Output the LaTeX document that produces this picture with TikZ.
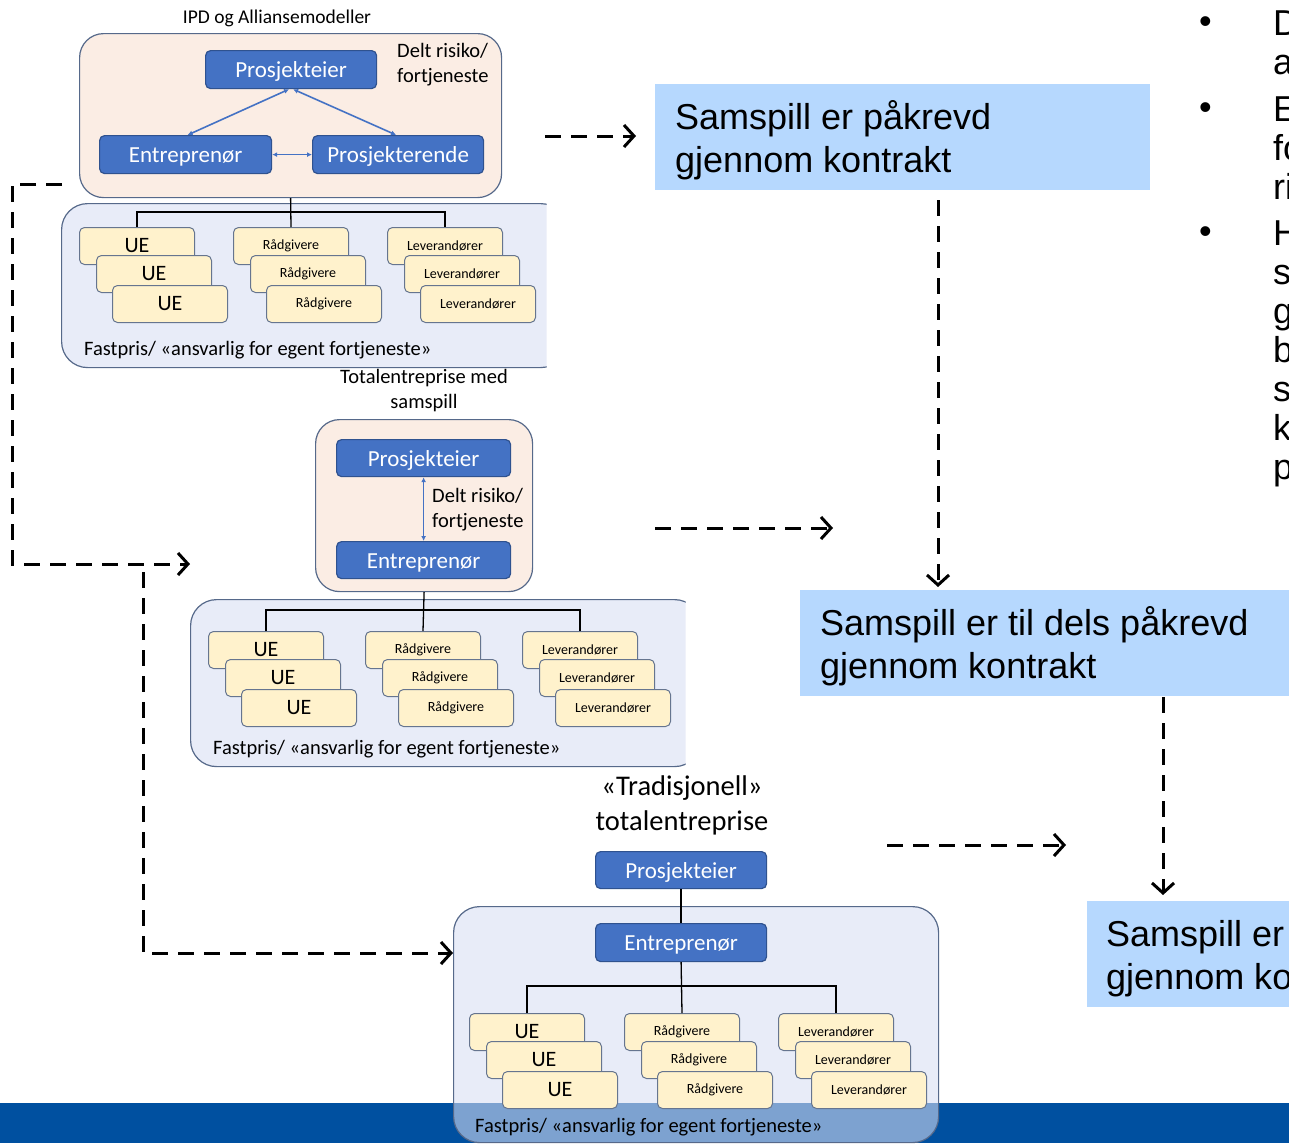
\documentclass[tikz,border=0pt]{standalone}
\usepackage{fontspec}
\setmainfont{Carlito}
\newfontfamily\arialf{Liberation Sans}
\usetikzlibrary{arrows.meta}
\definecolor{bluebox}{HTML}{4472C4}
\definecolor{blueedge}{HTML}{2F528F}
\definecolor{peach}{HTML}{FBEDE4}
\definecolor{contfill}{RGB}{216,223,243}
\definecolor{contedge}{HTML}{56698A}
\definecolor{yell}{HTML}{FFF2CC}
\definecolor{yedge}{HTML}{66758F}
\definecolor{txtbox}{HTML}{B6D8FE}
\definecolor{barblue}{RGB}{0,80,160}
\newcommand\fsz[2]{\fontsize{#1}{#2}\selectfont}
\newcommand\ystack[5]{%
  \node[ybox,font=#5] (#1a) at (#2,#3) {#4};
  \node[ybox,font=#5] (#1b) at ({#2+17},{#3+28}) {#4};
  \node[ybox,font=#5] (#1c) at ({#2+33},{#3+58}) {#4};}
\tikzset{
  role/.style={draw=blueedge, line width=1.2pt, fill=bluebox, rounded corners=5pt, text=white,
    inner sep=0pt, anchor=north west, font=\fsz{23}{27}, text height=18pt, text depth=1.5pt},
  ybox/.style={draw=yedge, line width=1pt, fill=yell, rounded corners=5pt, inner sep=0pt,
    anchor=north west, minimum width=115pt, minimum height=37pt},
  peachbox/.style={draw=contedge, line width=1.2pt, fill=peach, rounded corners=24pt,
    anchor=north west, inner sep=0pt},
  contbox/.style={draw=contedge, line width=1.2pt, fill=contfill, fill opacity=0.58,
    rounded corners=26pt, anchor=north west, inner sep=0pt},
  tbox/.style={fill=txtbox, anchor=north west, inner sep=0pt},
  stxt/.style={anchor=base west, font=\arialf\fsz{36}{43}, inner sep=0pt},
  tree/.style={line width=1.3pt, black},
  bluearr/.style={draw=bluebox, line width=1.6pt, {Latex[length=5pt,width=5pt]}-{Latex[length=5pt,width=5pt]}},
  dasharrow/.style={line width=3pt, dash pattern=on 16pt off 10pt,
    -{Straight Barb[length=10pt,width=22pt,line width=3pt]}},
  lbl/.style={inner sep=0pt, font=\fsz{20.5}{25}},
}
\begin{document}
\begin{tikzpicture}[x=1pt,y=-1pt]
\useasboundingbox (0,0) rectangle (1289,1143);
\fill[white] (0,0) rectangle (1289,1143);
% bottom bar
\fill[barblue] (0,1103) rectangle (1289,1143);

% ================= top block =================
\node[font=\fsz{19.5}{23}, inner sep=0pt] (t1) at (277,18.5) {IPD og Alliansemodeller};
\node[peachbox, minimum width=422pt, minimum height=164pt] (p1) at (79,33) {};
\node[role, minimum width=171pt, minimum height=38pt] (pe1) at (205,50) {Prosjekteier};
\node[role, minimum width=172pt, minimum height=38pt] (en1) at (99,135) {Entreprenør};
\node[role, minimum width=171pt, minimum height=38pt] (pr1) at (312,135) {Prosjekterende};
\node[lbl, font=\fsz{20.5}{25}, align=left, anchor=north west] (d1) at (397,43) {Delt risiko/\\fortjeneste};
\draw[bluearr] ([xshift=-2pt]pe1.south) -- ([xshift=2pt]en1.north);
\draw[bluearr] ([xshift=2pt]pe1.south) -- ([xshift=-2pt]pr1.north);
\draw[bluearr] (en1) -- (pr1);
\begin{scope}
\clip (0,0) rectangle (546.5,1143);
\node[contbox, minimum width=505pt, minimum height=164pt] (c1) at (61,203) {};
\end{scope}
\ystack{ue1}{79}{227}{UE}{\fsz{22}{26}}
\ystack{ra1}{233}{227}{Rådgivere}{\fsz{14}{17}}
\ystack{le1}{387}{227}{Leverandører}{\fsz{14}{17}}
\coordinate (j1) at (291,212);
\draw[tree] (p1.south) -- (ra1a.north);
\draw[tree] (ue1a.north) |- (le1a.north |- j1) -- (le1a.north);
\node[lbl, anchor=west] (f1) at (84,350.5) {Fastpris/ «ansvarlig for egent fortjeneste»};

% ================= middle block =================
\node[lbl, align=center] (t2) at (424,391) {Totalentreprise med\\samspill};
\node[peachbox, minimum width=217pt, minimum height=172pt] (p2) at (315,419) {};
\node[role, minimum width=174pt, minimum height=37pt] (pe2) at (336,439) {Prosjekteier};
\node[role, minimum width=174pt, minimum height=37pt] (en2) at (336,541) {Entreprenør};
\draw[bluearr] (pe2) -- (en2);
\node[lbl, align=left, anchor=north west] (d2) at (432,488.5) {Delt risiko/\\fortjeneste};
\begin{scope}
\clip (0,0) rectangle (685.5,1143);
\node[contbox, minimum width=510pt, minimum height=167pt] (c2) at (190,599) {};
\end{scope}
\ystack{ue2}{208}{631}{UE}{\fsz{22}{26}}
\ystack{ra2}{365}{631}{Rådgivere}{\fsz{14}{17}}
\ystack{le2}{522}{631}{Leverandører}{\fsz{14}{17}}
\coordinate (j2) at (424,610);
\draw[tree] (p2.south) -- (ra2a.north);
\draw[tree] (ue2a.north) |- (le2a.north |- j2) -- (le2a.north);
\node[lbl, anchor=west] (f2) at (213,749.5) {Fastpris/ «ansvarlig for egent fortjeneste»};

% ================= bottom block =================
\node[inner sep=0pt, font=\fsz{28.5}{35}, align=center] (t3) at (682,805) {«Tradisjonell»\\totalentreprise};
\node[contbox, minimum width=485pt, minimum height=236pt] (c3) at (453,906) {};
\node[role, minimum width=171pt, minimum height=37pt] (pe3) at (595,851) {Prosjekteier};
\node[role, minimum width=171pt, minimum height=38pt] (en3) at (595,923) {Entreprenør};
\draw[tree] (pe3) -- (en3);
\ystack{ue3}{469}{1013}{UE}{\fsz{22}{26}}
\ystack{ra3}{624}{1013}{Rådgivere}{\fsz{14}{17}}
\ystack{le3}{778}{1013}{Leverandører}{\fsz{14}{17}}
\coordinate (j3) at (681,986);
\draw[tree] (en3.south) -- (ra3a.north);
\draw[tree] (ue3a.north) |- (le3a.north |- j3) -- (le3a.north);
\node[lbl, anchor=west] (f3) at (475,1127.5) {Fastpris/ «ansvarlig for egent fortjeneste»};

% ================= right side =================
\node[tbox, minimum width=495pt, minimum height=106pt] (s1) at (655,84) {};
\node[stxt] (s1a) at (675,129) {Samspill er påkrevd};
\node[stxt] (s1b) at (675,172) {gjennom kontrakt};
\node[tbox, minimum width=500pt, minimum height=106pt] (s2) at (800,590) {};
\node[stxt] (s2a) at (820,635) {Samspill er til dels påkrevd};
\node[stxt] (s2b) at (820,678) {gjennom kontrakt};
\node[tbox, minimum width=220pt, minimum height=106pt] (s3) at (1087,901) {};
\node[stxt] (s3a) at (1106,946) {Samspill er};
\node[stxt] (s3b) at (1106,989) {gjennom ko};

% bullets
\begin{scope}[every node/.style={anchor=base west, font=\arialf\fsz{36}{40}, inner sep=0pt}]
\node (b1) at (1199,33) {•};
\node (b1l1) at (1273,35) {D};
\node (b1l2) at (1273,74) {a};
\node (b2) at (1199,119) {•};
\node (b2l1) at (1273,121) {E};
\node (b2l2) at (1273,160) {fo};
\node (b2l3) at (1273,199) {ri};
\node (b3) at (1199,243) {•};
\node (b3l1) at (1273,245) {H};
\node (b3l2) at (1273,284) {s};
\node (b3l3) at (1273,323) {g};
\node (b3l4) at (1273,362) {b};
\node (b3l5) at (1273,401) {s};
\node (b3l6) at (1273,440) {k};
\node (b3l7) at (1273,479) {p};
\end{scope}

% ================= dashed connectors =================
\coordinate (a1s) at (545,136);
\coordinate (a1e) at (636,136);
\draw[dasharrow] (a1s) -- (a1e);
\coordinate (v2) at (938,0);
\draw[dasharrow, shorten <=10pt, shorten >=3pt] (s1.south -| v2) -- (s2.north -| v2);
\coordinate (a3s) at (655,528);
\coordinate (a3e) at (833,528);
\draw[dasharrow] (a3s) -- (a3e);
\coordinate (v4) at (1163,0);
\draw[dasharrow, shorten <=1pt, shorten >=6pt] (s2.south -| v4) -- (s3.north -| v4);
\coordinate (a5s) at (887,845);
\coordinate (a5e) at (1066,845);
\draw[dasharrow] (a5s) -- (a5e);
\coordinate (l6s) at (62,184);
\coordinate (l6e) at (190,564);
\draw[dasharrow] (l6s) -- (12,184) |- (l6e);
\coordinate (l7s) at (143,572);
\coordinate (l7y) at (0,953);
\draw[dasharrow] (l7s) |- (c3.west |- l7y);
\end{tikzpicture}
\end{document}
